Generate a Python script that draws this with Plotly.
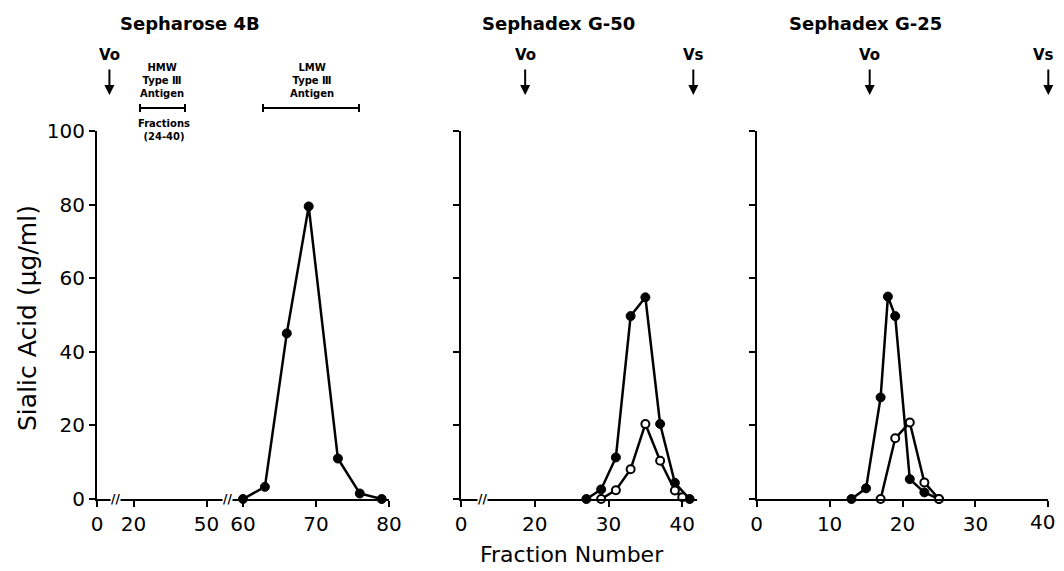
import plotly.graph_objects as go

W, H = 1056, 571
OFF = 8  # page body margin offset

# ---- data ----
# Panel 1 (Sepharose 4B) - broken axis: display positions 40,45,55 stand for 0,20,50
p1_ticks_pos = [40, 45, 55, 60, 70, 80]
p1_ticks_txt = ["0", "20", "50", "60", "70", "80"]
p1_x = [60, 63, 66, 69, 73, 76, 79]
p1_y = [0, 3.3, 45, 79.5, 11, 1.5, 0]

# Panel 2 (Sephadex G-50) - broken axis: display position 10 stands for 0
p2_ticks_pos = [10, 20, 30, 40]
p2_ticks_txt = ["0", "20", "30", "40"]
p2_x_filled = [27, 29, 31, 33, 35, 37, 39, 41]
p2_y_filled = [0, 2.6, 11.3, 49.7, 54.8, 20.4, 4.4, 0]
p2_x_open = [29, 31, 33, 35, 37, 39, 40]
p2_y_open = [0, 2.4, 8.1, 20.4, 10.4, 2.3, 0.5]

# Panel 3 (Sephadex G-25)
p3_ticks_pos = [0, 10, 20, 30, 40]
p3_ticks_txt = ["0", "10", "20", "30", ""]   # "40" drawn as an annotation to stay inside the page
p3_x_filled = [13, 15, 17, 18, 19, 21, 23, 25]
p3_y_filled = [0, 2.9, 27.6, 55, 49.7, 5.4, 1.8, 0]
p3_x_open = [17, 19, 21, 23, 25]
p3_y_open = [0, 16.5, 20.8, 4.5, 0]

y_ticks = [0, 20, 40, 60, 80, 100]

titles = ["Sepharose 4B", "Sephadex G-50", "Sephadex G-25"]
vo_pos = [41.7, 18.7, 15.5]
vs_pos = [81.9, 41.5, 40]

FONT = "DejaVu Sans"

def px(x):
    return (x - OFF) / W

def py(y):
    return 1 - (y - OFF) / H

fig = go.Figure()

line_style = dict(color="black", width=2.5)
filled = dict(symbol="circle", size=9, color="black", line=dict(color="black", width=1))
opened = dict(symbol="circle", size=8, color="white", line=dict(color="black", width=2))

fig.add_trace(go.Scatter(x=p1_x, y=p1_y, mode="lines+markers", line=line_style,
                         marker=filled, xaxis="x", yaxis="y", cliponaxis=False, showlegend=False))
fig.add_trace(go.Scatter(x=p2_x_filled, y=p2_y_filled, mode="lines+markers", line=line_style,
                         marker=filled, xaxis="x2", yaxis="y2", cliponaxis=False, showlegend=False))
fig.add_trace(go.Scatter(x=p2_x_open, y=p2_y_open, mode="lines+markers", line=line_style,
                         marker=opened, xaxis="x2", yaxis="y2", cliponaxis=False, showlegend=False))
fig.add_trace(go.Scatter(x=p3_x_filled, y=p3_y_filled, mode="lines+markers", line=line_style,
                         marker=filled, xaxis="x3", yaxis="y3", cliponaxis=False, showlegend=False))
fig.add_trace(go.Scatter(x=p3_x_open, y=p3_y_open, mode="lines+markers", line=line_style,
                         marker=opened, xaxis="x3", yaxis="y3", cliponaxis=False, showlegend=False))

ydom = [py(499), py(131)]
xdoms = [[px(97), px(389)], [px(461), px(697)], [px(756.7), px(1048.3)]]
xranges = [[40, 80], [10, 42], [0, 40]]
xtickpos = [p1_ticks_pos, p2_ticks_pos, p3_ticks_pos]
xticktxt = [p1_ticks_txt, p2_ticks_txt, p3_ticks_txt]

axis_common = dict(showline=True, linecolor="black", linewidth=2, ticks="outside",
                   ticklen=6, tickwidth=2, tickcolor="black", showgrid=False,
                   zeroline=False, automargin=False,
                   tickfont=dict(family=FONT, size=20, color="black"))

for i in range(3):
    sfx = "" if i == 0 else str(i + 1)
    fig.update_layout(**{
        "xaxis" + sfx: dict(domain=xdoms[i], range=xranges[i], anchor="y" + sfx,
                            tickmode="array", tickvals=xtickpos[i], ticktext=xticktxt[i],
                            **axis_common),
        "yaxis" + sfx: dict(domain=ydom, range=[0, 100], anchor="x" + sfx,
                            tickmode="array", tickvals=y_ticks,
                            showticklabels=(i == 0), **axis_common),
    })

ann = []
title_x = [190, 558, 865]
for i in range(3):
    ann.append(dict(text="<b>" + titles[i] + "</b>", x=px(title_x[i]), y=py(23), xref="paper", yref="paper",
                    showarrow=False, font=dict(family=FONT, size=18, color="black"),
                    xanchor="center", yanchor="middle"))
    xr = "x" if i == 0 else "x" + str(i + 1)
    for j, (lab, pos) in enumerate((("Vo", vo_pos[i]), ("Vs", vs_pos[i]))):
        if i == 2 and j == 1:
            ann.append(dict(text="<b>" + lab + "</b>", x=px(1056), y=py(55), xref="paper", yref="paper",
                            showarrow=False, font=dict(family=FONT, size=15, color="black"),
                            xanchor="right", yanchor="middle"))
        else:
            ann.append(dict(text="<b>" + lab + "</b>", x=pos, y=py(55), xref=xr, yref="paper",
                            showarrow=False, font=dict(family=FONT, size=15, color="black"),
                            xanchor="center", yanchor="middle"))
        ann.append(dict(text="", x=pos, y=py(95), xref=xr, yref="paper",
                        showarrow=True, ax=0, ay=-27, arrowhead=2, arrowsize=1,
                        arrowwidth=2, arrowcolor="black"))

# last tick label of panel 3
ann.append(dict(text="40", x=px(1057), y=py(522), xref="paper", yref="paper",
                showarrow=False, font=dict(family=FONT, size=20, color="black"),
                xanchor="right", yanchor="middle"))

small = dict(family=FONT, size=10, color="black")
ann.append(dict(text="<b>HMW<br>Type Ⅲ<br>Antigen</b>", x=px(162), y=py(80), xref="paper", yref="paper",
                showarrow=False, font=small, align="center", xanchor="center", yanchor="middle"))
ann.append(dict(text="<b>Fractions<br>(24-40)</b>", x=px(164), y=py(130), xref="paper", yref="paper",
                showarrow=False, font=small, align="center", xanchor="center", yanchor="middle"))
ann.append(dict(text="<b>LMW<br>Type Ⅲ<br>Antigen</b>", x=px(312), y=py(80), xref="paper", yref="paper",
                showarrow=False, font=small, align="center", xanchor="center", yanchor="middle"))

# axis break marks
for bx in (115, 227, 482):
    ann.append(dict(text="<b>//</b>", x=px(bx), y=py(499), xref="paper", yref="paper",
                    showarrow=False, font=dict(family=FONT, size=12, color="black"),
                    xanchor="center", yanchor="middle", bgcolor="white", borderpad=0))

ann.append(dict(text="Sialic Acid (μg/ml)", x=px(27), y=py(318), xref="paper", yref="paper",
                showarrow=False, textangle=-90, font=dict(family=FONT, size=25, color="black"),
                xanchor="center", yanchor="middle"))
ann.append(dict(text="Fraction Number", x=px(572), y=py(554), xref="paper", yref="paper",
                showarrow=False, font=dict(family=FONT, size=22, color="black"),
                xanchor="center", yanchor="middle"))

shapes = []
for (x0, x1) in ((140, 185), (263, 359)):
    shapes.append(dict(type="line", xref="paper", yref="paper", x0=px(x0), x1=px(x1),
                       y0=py(108), y1=py(108), line=dict(color="black", width=2)))
    for xe in (x0, x1):
        shapes.append(dict(type="line", xref="paper", yref="paper", x0=px(xe), x1=px(xe),
                           y0=py(104), y1=py(112), line=dict(color="black", width=2)))

fig.update_layout(width=W, height=H, margin=dict(l=0, r=0, t=0, b=0),
                  paper_bgcolor="white", plot_bgcolor="white",
                  annotations=ann, shapes=shapes, showlegend=False)

fig.write_html("out.html")
